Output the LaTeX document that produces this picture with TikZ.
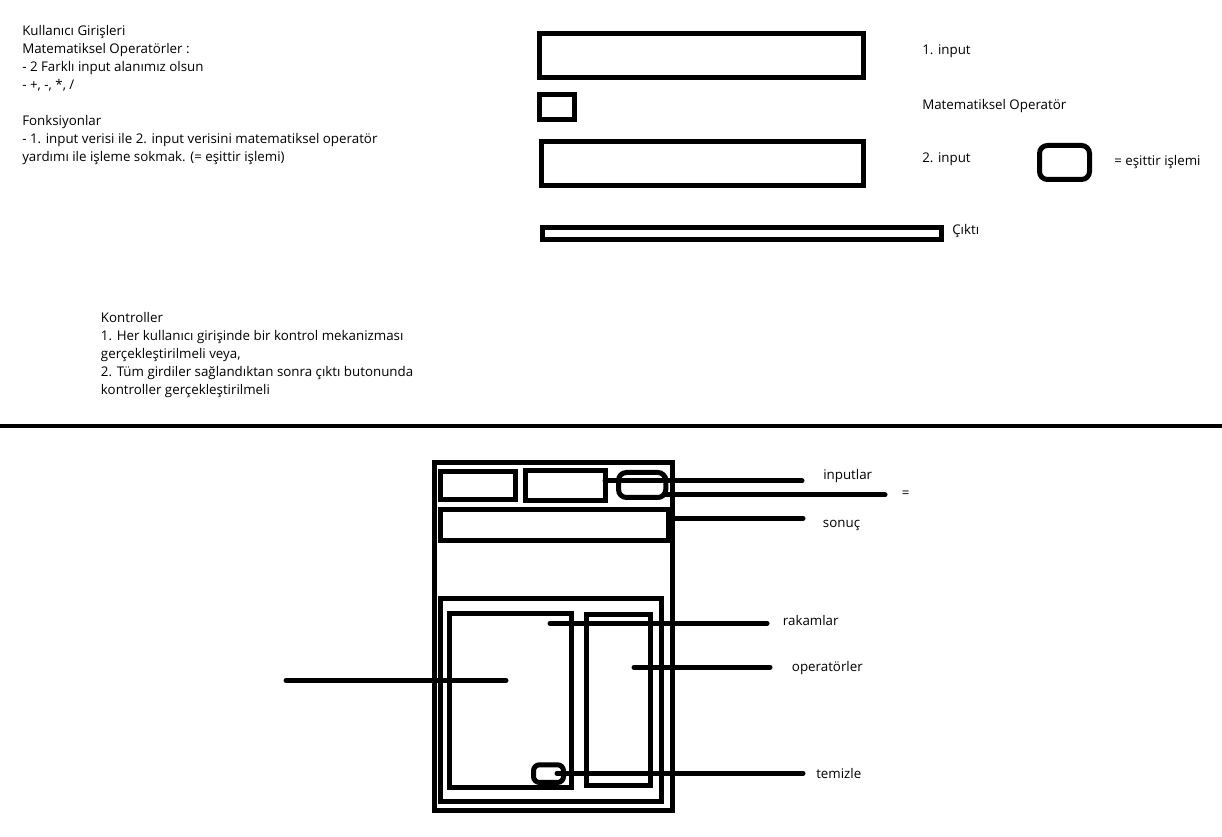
\documentclass[tikz,border=0pt]{standalone}
\usepackage{fontspec}
\setmainfont{Open Sans}
\newcommand{\lblfont}{\fontsize{10}{12}\selectfont}
\tikzset{
  box/.style={line width=3.75pt, line join=miter},
  rbox/.style={line width=3.75pt, rounded corners=6pt},
  wire/.style={line width=3.75pt, line cap=round},
  lbl/.style={anchor=base west, inner sep=0pt, font=\lblfont, text=black},
}
\begin{document}
\begin{tikzpicture}[x=0.75pt,y=-0.75pt]
\useasboundingbox[fill=white] (0,0) rectangle (1222,837);

% ---------- top-left notes ----------
\node[lbl] (n1) at (22,36) {Kullanıcı Girişleri};
\node[lbl] (n2) at (22,54) {Matematiksel Operatörler :};
\node[lbl] (n3) at (22,72) {- 2 Farklı input alanımız olsun};
\node[lbl] (n4) at (22,90) {- +, -, *, /};
\node[lbl] (n5) at (22,126) {Fonksiyonlar};
\node[lbl] (n6) at (22,144) {- 1. input verisi ile 2. input verisini matematiksel operatör};
\node[lbl] (n7) at (22,162) {yardımı ile işleme sokmak. (= eşittir işlemi)};

% ---------- controls notes ----------
\node[lbl] (k1) at (100.7,322.7) {Kontroller};
\node[lbl] (k2) at (100.7,340.7) {1. Her kullanıcı girişinde bir kontrol mekanizması};
\node[lbl] (k3) at (100.7,358.7) {gerçekleştirilmeli veya,};
\node[lbl] (k4) at (100.7,376.7) {2. Tüm girdiler sağlandıktan sonra çıktı butonunda};
\node[lbl] (k5) at (100.7,394.7) {kontroller gerçekleştirilmeli};

% ---------- top-right sketch ----------
\draw[box] (539.5,33.5) rectangle (863,77.5);
\draw[box] (539,95) rectangle (574,120);
\draw[box] (541.5,141.5) rectangle (863,186);
\draw[box] (542.5,227.5) rectangle (941.5,240);
\draw[rbox] (1039.5,145.5) rectangle (1089.5,179.5);

\node[lbl] (l1) at (922,55) {1. input};
\node[lbl] (l2) at (922,109.3) {Matematiksel Operatör};
\node[lbl] (l3) at (922,162.7) {2. input};
\node[lbl] (l4) at (1114,165.7) {= eşittir işlemi};
\node[lbl] (l5) at (952,235) {Çıktı};

% ---------- divider ----------
\coordinate (dL) at (0,426);
\coordinate (dR) at (1222,426);
\draw[line width=3pt] (dL) -- (dR);

% ---------- calculator sketch ----------
\draw[box] (434.8,462.3) rectangle (672.4,810.8);
\draw[box] (440.8,471.5) rectangle (515.8,499.2);
\draw[box] (525.8,470.8) rectangle (605.2,500.2);
\draw[box] (440.8,509.2) rectangle (668.7,540.8);
\draw[box] (440.8,599) rectangle (661.8,801.8);
\draw[box] (449.8,613.2) rectangle (571.8,787.5);
\draw[box] (586.8,614.2) rectangle (650.8,785.8);
\draw[rbox] (618.5,472.5) rectangle (665.8,497.5);
\draw[rbox, rounded corners=4.5pt] (533.5,764.8) rectangle (563.5,782.5);

% connector ends
\coordinate (inA) at (605,481);   \coordinate (inB) at (802,481);
\coordinate (eqA) at (666,495);   \coordinate (eqB) at (885,495);
\coordinate (soA) at (672.5,518.3); \coordinate (soB) at (803,518.3);
\coordinate (raA) at (550,623.3); \coordinate (raB) at (767,623.3);
\coordinate (opA) at (634,667.3); \coordinate (opB) at (770,667.3);
\coordinate (teA) at (557,773.3); \coordinate (teB) at (803,773.3);
\coordinate (lfA) at (286,680.5); \coordinate (lfB) at (506,680.5);

\draw[wire] (inA) -- (inB);
\draw[wire] (eqA) -- (eqB);
\draw[wire] (soA) -- (soB);
\draw[wire] (raA) -- (raB);
\draw[wire] (opA) -- (opB);
\draw[wire] (teA) -- (teB);
\draw[wire] (lfA) -- (lfB);

\node[lbl] (c1) at (823,480) {inputlar};
\node[lbl] (c2) at (901.7,498) {=};
\node[lbl] (c3) at (822.7,527.7) {sonuç};
\node[lbl] (c4) at (782.7,626) {rakamlar};
\node[lbl] (c5) at (791.7,671.7) {operatörler};
\node[lbl] (c6) at (816,778.3) {temizle};
\end{tikzpicture}
\end{document}
